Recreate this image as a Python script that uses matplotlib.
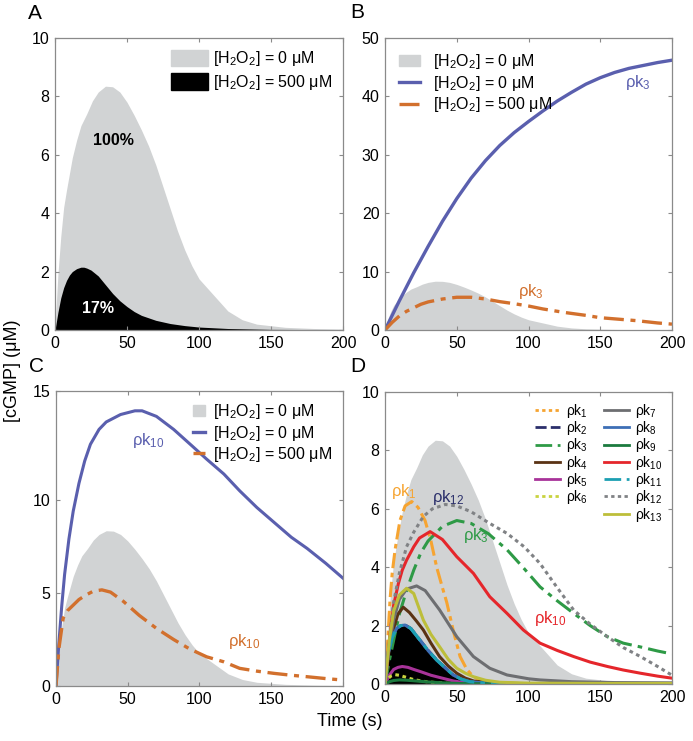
import matplotlib
matplotlib.use("Agg")
import matplotlib.pyplot as plt
from matplotlib.patches import Patch
from matplotlib.lines import Line2D

plt.rcParams['font.family'] = ['Liberation Sans', 'DejaVu Sans']
plt.rcParams['mathtext.fontset'] = 'custom'
plt.rcParams['mathtext.rm'] = 'Liberation Sans'
plt.rcParams['mathtext.it'] = 'Liberation Sans:italic'
plt.rcParams['mathtext.default'] = 'regular'

# ---- data ----
# control response, [H2O2] = 0 uM (grey area, all panels)
t_ctrl = [0, 1, 2, 4, 6, 8, 10, 12, 15, 18, 22, 26, 30, 35, 40, 45, 50, 55, 60, 65, 70,
          75, 80, 85, 90, 95, 100, 110, 120, 130, 140, 160, 180, 200]
ctrl = [0, 1.0, 1.9, 3.2, 4.2, 4.8, 5.35, 5.9, 6.5, 7.0, 7.4, 7.85, 8.15, 8.35, 8.33, 8.15,
        7.8, 7.35, 6.85, 6.3, 5.65, 4.9, 4.15, 3.4, 2.75, 2.2, 1.75, 1.2, 0.65, 0.35, 0.2,
        0.09, 0.05, 0.03]

# [H2O2] = 500 uM (black area, panel A)
t_h2o2 = [0, 1, 2, 4, 6, 8, 10, 12, 15, 18, 20, 22, 25, 30, 35, 40, 45, 50, 55, 60, 70,
          80, 90, 100, 120, 150, 200]
h2o2 = [0, 0.3, 0.6, 1.1, 1.45, 1.7, 1.88, 2.0, 2.1, 2.15, 2.15, 2.12, 2.05, 1.85, 1.55,
        1.25, 1.0, 0.8, 0.63, 0.5, 0.33, 0.22, 0.15, 0.1, 0.05, 0.02, 0.01]

# panel B: rho k3
t_b_blue = [0, 10, 20, 30, 40, 50, 60, 70, 80, 90, 100, 110, 120, 130, 140, 150, 160, 170,
            180, 190, 200]
b_blue = [0, 5.0, 9.8, 14.3, 18.6, 22.5, 26.0, 29.0, 31.6, 33.8, 35.7, 37.5, 39.2, 40.7,
          42.1, 43.2, 44.1, 44.8, 45.3, 45.8, 46.2]
t_b_orange = [0, 5, 10, 15, 20, 25, 30, 40, 50, 60, 70, 80, 90, 100, 110, 125, 140, 150,
              160, 175, 190, 200]
b_orange = [0, 1.3, 2.4, 3.2, 3.8, 4.4, 4.8, 5.3, 5.6, 5.6, 5.3, 4.85, 4.5, 4.1, 3.6, 3.0,
            2.5, 2.1, 1.9, 1.6, 1.2, 1.0]

# panel C: rho k10
t_c_blue = [0, 2, 4, 6, 9, 12, 16, 20, 24, 30, 35, 45, 55, 60, 70, 82, 95, 105, 117, 128,
            140, 152, 164, 175, 188, 200]
c_blue = [0, 2.3, 4.3, 6.0, 7.9, 9.4, 10.9, 12.1, 13.0, 13.8, 14.2, 14.6, 14.8, 14.8, 14.5,
          13.8, 12.9, 12.2, 11.4, 10.5, 9.6, 8.8, 8.0, 7.4, 6.6, 5.8]
t_c_orange = [0, 2, 5, 8, 12, 16, 21, 26, 32, 38, 47, 58, 70, 82, 93, 105, 117, 128, 140,
              152, 164, 175, 188, 200]
c_orange = [0, 2.0, 3.65, 4.05, 4.35, 4.65, 4.9, 5.1, 5.17, 5.05, 4.55, 3.8, 3.1, 2.5, 2.0,
            1.57, 1.3, 0.95, 0.8, 0.68, 0.58, 0.5, 0.4, 0.32]

# panel D: each rate constant perturbed
t_d_low = [0, 2, 5, 8, 11, 14, 18, 24.4, 30, 36, 42, 47.5, 53, 59, 70, 85, 100, 200]
d_low = [0, 1.0, 1.6, 1.9, 2.0, 2.02, 1.9, 1.5, 1.15, 0.82, 0.55, 0.31, 0.17, 0.08, 0.03,
         0.01, 0.0, 0.0]
t_k1 = [0, 2, 3.5, 5, 7, 10.4, 14, 18.6, 23, 27.9, 32, 36, 40, 43, 47.7, 52.3, 57, 61.6,
        67, 73, 80, 90, 200]
k1 = [0, 1.6, 2.9, 3.8, 4.6, 5.6, 6.1, 6.25, 6.05, 5.6, 4.9, 4.0, 3.3, 2.8, 1.8, 0.94, 0.5,
      0.25, 0.12, 0.05, 0.02, 0.01, 0.0]
t_k3 = [0, 3, 6, 10, 15, 20, 25, 30, 40, 50, 60, 72, 85, 97, 108, 120, 131.5, 143, 155,
        166, 178, 190, 200]
k3 = [0, 0.8, 1.5, 2.4, 3.2, 3.9, 4.5, 4.9, 5.4, 5.6, 5.5, 5.15, 4.6, 3.95, 3.33, 2.85,
      2.42, 2.0, 1.62, 1.4, 1.27, 1.13, 1.03]
t_k4 = [0, 3, 6, 9, 12.7, 17, 22, 26.7, 32, 38, 44, 50, 56, 62, 75, 100, 200]
k4 = [0, 1.2, 1.9, 2.4, 2.63, 2.45, 2.15, 1.85, 1.4, 0.94, 0.62, 0.37, 0.2, 0.1, 0.04,
      0.01, 0.0]
t_k5 = [0, 3, 6, 9, 12, 16, 20, 25, 32, 40, 48, 55, 65, 80, 200]
k5 = [0, 0.3, 0.5, 0.57, 0.6, 0.57, 0.5, 0.42, 0.3, 0.2, 0.1, 0.05, 0.02, 0.0, 0.0]
t_k6 = [0, 2, 4, 7, 10, 14, 20, 27, 35, 45, 60, 200]
k6 = [0, 0.18, 0.27, 0.32, 0.3, 0.24, 0.15, 0.09, 0.05, 0.02, 0.0, 0.0]
t_k7 = [0, 3, 6, 10, 15, 22, 28, 38, 50, 61.6, 73, 85, 100, 108, 130, 160, 200]
k7 = [0, 1.3, 2.2, 2.9, 3.25, 3.36, 3.2, 2.54, 1.62, 0.94, 0.54, 0.31, 0.18, 0.14, 0.08,
      0.05, 0.04]
t_k9 = [0, 3, 6, 10, 15, 20, 30, 40, 50, 60, 200]
k9 = [0, 0.08, 0.12, 0.14, 0.13, 0.11, 0.07, 0.04, 0.02, 0.01, 0.0]
t_k10 = [0, 3.5, 6, 9.3, 12, 15, 20, 24, 31.4, 40, 50, 61.6, 73, 85, 96.4, 108, 120, 131.5,
         143, 155, 166, 178, 190, 200]
k10 = [0, 1.7, 2.7, 3.44, 3.9, 4.24, 4.7, 5.0, 5.22, 4.95, 4.36, 3.79, 2.99, 2.42, 1.85,
       1.4, 1.15, 0.94, 0.75, 0.6, 0.48, 0.37, 0.27, 0.2]
t_k12 = [0, 3, 6, 10, 15, 20, 26.7, 33, 42, 50, 60, 73, 85, 97, 108, 120, 131.5, 143, 155,
         166, 178, 190, 200]
k12 = [0, 1.5, 2.8, 3.8, 4.7, 5.2, 5.74, 6.0, 6.15, 6.1, 5.9, 5.5, 5.16, 4.7, 4.13, 3.3,
       2.53, 2.05, 1.62, 1.25, 0.94, 0.6, 0.3]
t_k13 = [0, 3, 6, 10, 15, 20, 26.7, 32, 38, 44, 50, 56, 61.6, 70, 80, 100, 150, 200]
k13 = [0, 1.5, 2.5, 3.05, 3.28, 3.1, 2.19, 1.7, 1.28, 0.85, 0.54, 0.37, 0.25, 0.13, 0.06,
       0.03, 0.02, 0.02]

GREY = '#d1d3d4'
BLUE = '#5a5fae'
ORANGE = '#d2702d'
lab0 = r'[H$_2$O$_2$] = 0 μM'
lab500 = r'[H$_2$O$_2$] = 500 μM'

fig = plt.figure(figsize=(6.93, 7.41), dpi=100)
axA = fig.add_axes([0.0794, 0.5547, 0.4156, 0.394])
axB = fig.add_axes([0.5556, 0.5547, 0.4141, 0.394])
axC = fig.add_axes([0.0808, 0.0742, 0.4141, 0.398])
axD = fig.add_axes([0.5556, 0.0769, 0.4141, 0.394])

for ax in (axA, axB, axC, axD):
    ax.set_xlim(0, 200)
    ax.set_xticks([0, 50, 100, 150, 200])
    for s in ax.spines.values():
        s.set_color('#8a8a8a')
        s.set_linewidth(0.9)
    ax.tick_params(direction='in', top=True, right=True, length=3, width=0.8,
                   color='#8a8a8a', labelsize=11.5, pad=4)

# A
axA.fill_between(t_ctrl, ctrl, color=GREY, lw=0)
axA.fill_between(t_h2o2, h2o2, color='black', lw=0)
axA.set_ylim(0, 10)
axA.set_yticks([0, 2, 4, 6, 8, 10])
axA.text(40.5, 6.5, '100%', fontsize=11.5, fontweight='bold', ha='center', va='center')
axA.text(30, 0.75, '17%', fontsize=11.5, fontweight='bold', color='white',
         ha='center', va='center')
axA.legend([Patch(color=GREY), Patch(color='black')], [lab0, lab500], loc='upper right',
           frameon=False, fontsize=11.5, handlelength=2.3, handleheight=1.2,
           handletextpad=0.3, labelspacing=0.3, borderaxespad=0.3)

# B
axB.fill_between(t_ctrl, ctrl, color=GREY, lw=0)
axB.plot(t_b_blue, b_blue, color=BLUE, lw=2.4)
axB.plot(t_b_orange, b_orange, color=ORANGE, lw=2.4, dashes=(6, 2, 1.5, 2))
axB.set_ylim(0, 50)
axB.set_yticks([0, 10, 20, 30, 40, 50])
axB.text(176, 42.3, 'ρk$_3$', color=BLUE, fontsize=12, ha='center', va='center')
axB.text(102, 6.6, 'ρk$_3$', color=ORANGE, fontsize=12, ha='center', va='center')
axB.legend([Patch(color=GREY), Line2D([], [], color=BLUE, lw=2.4),
            Line2D([], [], color=ORANGE, lw=2.4, dashes=(6, 2, 1.5, 2))],
           [lab0, lab0, lab500], loc='upper left', frameon=False, fontsize=11.5,
           handlelength=1.3, handletextpad=0.8, labelspacing=0.15, borderaxespad=0.5)

# C
axC.fill_between(t_ctrl, ctrl, color=GREY, lw=0)
axC.plot(t_c_blue, c_blue, color=BLUE, lw=2.2)
axC.plot(t_c_orange, c_orange, color=ORANGE, lw=2.4, dashes=(6, 2, 1.5, 2))
axC.set_ylim(0, 15.86)
axC.set_yticks([0, 5, 10, 15.86])
axC.set_yticklabels(['0', '5', '10', '15'])
axC.text(64, 13.2, 'ρk$_{10}$', color=BLUE, fontsize=12, ha='center', va='center')
axC.text(131, 2.4, 'ρk$_{10}$', color=ORANGE, fontsize=12, ha='center', va='center')
axC.legend([Patch(color=GREY), Line2D([], [], color=BLUE, lw=2.4),
            Line2D([], [], color=ORANGE, lw=2.4, dashes=(6, 2, 1.5, 2))],
           [lab0, lab0, lab500], loc='upper right', frameon=False, fontsize=11.5,
           handlelength=0.7, handletextpad=0.5, labelspacing=0.15, borderaxespad=0.3)

# D
d_series = [  # label, t, values, colour, dashes (None = solid)
    ('ρk$_1$', t_k1, k1, '#f6a431', (5, 1.5, 1.5, 1.5)),
    ('ρk$_2$', t_d_low, d_low, '#2b2f6b', (4, 1.5)),
    ('ρk$_3$', t_k3, k3, '#2e9a46', (6, 2, 1.5, 2)),
    ('ρk$_4$', t_k4, k4, '#5a3214', None),
    ('ρk$_5$', t_k5, k5, '#a83399', None),
    ('ρk$_6$', t_k6, k6, '#c9d33f', (1.2, 1.2)),
    ('ρk$_7$', t_k7, k7, '#6d6e71', None),
    ('ρk$_8$', t_d_low, d_low, '#3d6fb6', None),
    ('ρk$_9$', t_k9, k9, '#1b7a3e', None),
    ('ρk$_{10}$', t_k10, k10, '#e5262b', None),
    ('ρk$_{11}$', t_d_low, d_low, '#1c9fb2', (6, 2, 1.5, 2)),
    ('ρk$_{12}$', t_k12, k12, '#808285', (1.2, 1.2)),
    ('ρk$_{13}$', t_k13, k13, '#bdbe3a', None),
]
legend_dashes = {'ρk$_1$': (1.2, 1.2)}

axD.fill_between(t_ctrl, ctrl, color=GREY, lw=0)
axD.fill_between(t_d_low, d_low, color='black', lw=0)
handles, labels = [], []
for lab, tt, vv, col, ds in d_series:
    kw = {} if ds is None else {'dashes': ds}
    axD.plot(tt, vv, color=col, lw=2.2, **kw)
    lds = legend_dashes.get(lab, ds)
    lkw = {} if lds is None else {'dashes': lds}
    handles.append(Line2D([], [], color=col, lw=2.0, **lkw))
    labels.append(lab)
    if lab == 'ρk$_6$':
        handles.append(Line2D([], [], color='none'))
        labels.append('')
axD.set_ylim(0, 10)
axD.set_yticks([0, 2, 4, 6, 8, 10])
axD.text(13, 6.6, 'ρk$_1$', color='#f6a431', fontsize=12, ha='center', va='center')
axD.text(44, 6.4, 'ρk$_{12}$', color='#2b2f6b', fontsize=12, ha='center', va='center')
axD.text(63, 5.1, 'ρk$_3$', color='#2e9a46', fontsize=12, ha='center', va='center')
axD.text(115, 2.25, 'ρk$_{10}$', color='#e5262b', fontsize=12, ha='center', va='center')
axD.legend(handles, labels, ncol=2, loc='upper right', frameon=False, fontsize=10,
           handlelength=1.8, handletextpad=0.4, labelspacing=-0.05, columnspacing=1.2,
           borderaxespad=0.3)

# panel letters and shared axis labels
fig.text(0.051, 0.982, 'A', fontsize=15, ha='center', va='center')
fig.text(0.516, 0.983, 'B', fontsize=15, ha='center', va='center')
fig.text(0.053, 0.506, 'C', fontsize=15, ha='center', va='center')
fig.text(0.517, 0.506, 'D', fontsize=15, ha='center', va='center')
fig.text(0.018, 0.5, '[cGMP] (μM)', rotation=90, fontsize=13, ha='center', va='center')
fig.text(0.505, 0.026, 'Time (s)', fontsize=13, ha='center', va='center')

fig.savefig('out.png', dpi=100)
